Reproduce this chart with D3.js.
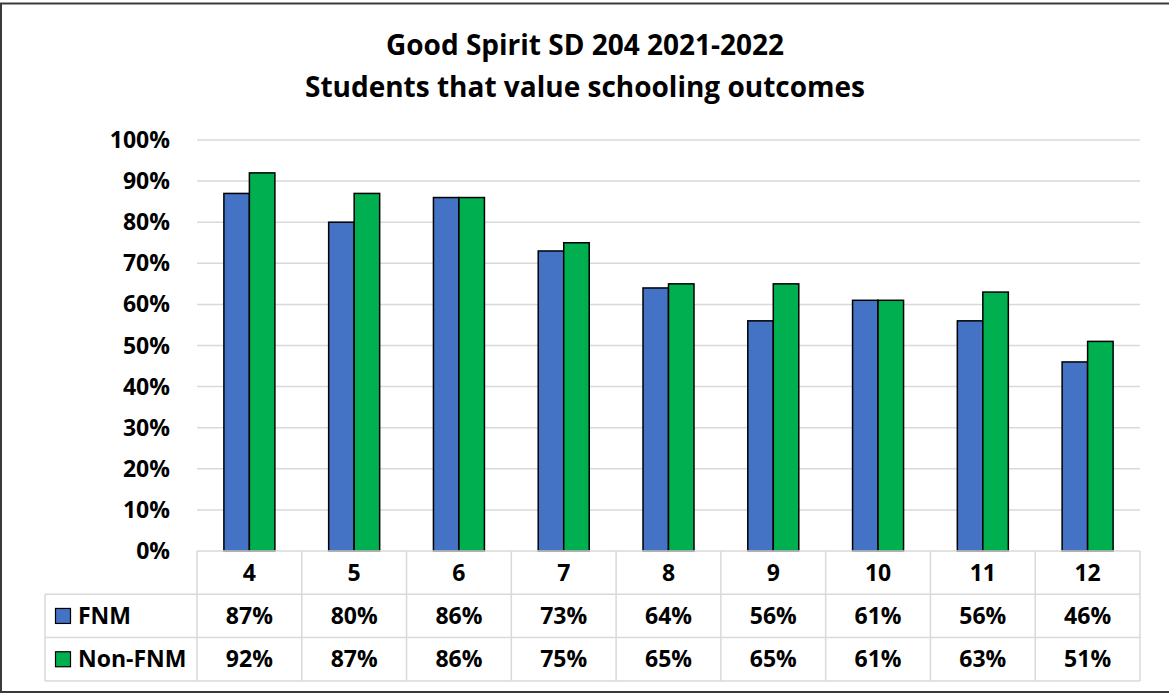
<!DOCTYPE html>
<html>
<head>
<meta charset="utf-8">
<script src="https://cdn.jsdelivr.net/npm/d3@7"></script>
<style>
  body { margin: 0; background: #fff; }
  text { font-family: "Open Sans", sans-serif; font-weight: bold; fill: #000; }
</style>
</head>
<body>
<div id="chart"></div>
<script>
const width = 1169;
const height = 694;

// data
const grades = ["4", "5", "6", "7", "8", "9", "10", "11", "12"];
const seriesNames = ["FNM", "Non-FNM"];
const fnm = [87, 80, 86, 73, 64, 56, 61, 56, 46];
const nonFnm = [92, 87, 86, 75, 65, 65, 61, 63, 51];
const yTicks = [0, 10, 20, 30, 40, 50, 60, 70, 80, 90, 100];
const colors = ["#4472C4", "#00B050"];

const series = [fnm, nonFnm];
const labelSize = "23px";

const svg = d3.select("#chart")
  .append("svg")
  .attr("width", width)
  .attr("height", height);

// outer border (right side runs off the picture)
svg.append("rect")
  .attr("x", 1)
  .attr("y", 3.5)
  .attr("width", width + 10)
  .attr("height", 688.5)
  .attr("fill", "none")
  .attr("stroke", "#3a3a3a")
  .attr("stroke-width", 2);

/* title */
const title = svg.append("text")
  .attr("text-anchor", "middle")
  .style("font-size", "28px");
title.append("tspan").attr("x", 585).attr("y", 55).text("Good Spirit SD 204 2021-2022");
title.append("tspan").attr("x", 585).attr("y", 97).text("Students that value schooling outcomes");

const plotLeft = 197, plotRight = 1140, plotTop = 140, plotBottom = 551;

const xScale = d3.scaleBand()
  .domain(grades)
  .range([plotLeft, plotRight]);

const yScale = d3.scaleLinear()
  .domain([0, 100])
  .range([plotBottom, plotTop]);

// gridlines
svg.append("g")
  .selectAll("line")
  .data(yTicks.filter(d => d > 0))
  .enter()
  .append("line")
  .attr("x1", plotLeft)
  .attr("x2", plotRight)
  .attr("y1", d => yScale(d))
  .attr("y2", d => yScale(d))
  .attr("stroke", "#d9d9d9")
  .attr("stroke-width", 1.5);

// y labels
svg.append("g")
  .selectAll("text")
  .data(yTicks)
  .enter()
  .append("text")
  .attr("x", 170)
  .attr("y", d => yScale(d) + 8)
  .attr("text-anchor", "end")
  .style("font-size", labelSize)
  .text(d => d + "%");

// bars
const barW = 25.5;
series.forEach(function(vals, i) {
  svg.append("g")
    .selectAll("rect")
    .data(vals)
    .enter()
    .append("rect")
    .attr("x", (d, j) => xScale(grades[j]) + xScale.bandwidth() / 2 - barW + i * barW)
    .attr("y", d => yScale(d))
    .attr("width", barW)
    .attr("height", d => plotBottom - yScale(d))
    .attr("fill", colors[i])
    .attr("stroke", "#000")
    .attr("stroke-width", 1.5);
});

/* data table */
const rowH = 43.3;
const tableLeft = 45;
const grid = svg.append("g")
  .attr("stroke", "#d9d9d9")
  .attr("stroke-width", 1.5);

// horizontal lines
[0, 1, 2, 3].forEach(function(r) {
  grid.append("line")
    .attr("x1", r === 0 ? plotLeft : tableLeft)
    .attr("x2", plotRight)
    .attr("y1", plotBottom + r * rowH)
    .attr("y2", plotBottom + r * rowH);
});
// vertical lines
grades.concat(["end"]).forEach(function(g, j) {
  const x = plotLeft + j * xScale.bandwidth();
  grid.append("line")
    .attr("x1", x)
    .attr("x2", x)
    .attr("y1", plotBottom)
    .attr("y2", plotBottom + 3 * rowH);
});
grid.append("line")
  .attr("x1", tableLeft)
  .attr("x2", tableLeft)
  .attr("y1", plotBottom + rowH)
  .attr("y2", plotBottom + 3 * rowH);

// header row
svg.append("g")
  .selectAll("text")
  .data(grades)
  .enter()
  .append("text")
  .attr("x", d => xScale(d) + xScale.bandwidth() / 2)
  .attr("y", plotBottom + rowH / 2 + 8)
  .attr("text-anchor", "middle")
  .style("font-size", labelSize)
  .text(d => d);

// value rows + legend keys
series.forEach(function(vals, i) {
  const cy = plotBottom + rowH * (i + 1) + rowH / 2;
  svg.append("g")
    .selectAll("text")
    .data(vals)
    .enter()
    .append("text")
    .attr("x", (d, j) => xScale(grades[j]) + xScale.bandwidth() / 2)
    .attr("y", cy + 8)
    .attr("text-anchor", "middle")
    .style("font-size", labelSize)
    .text(d => d + "%");

  svg.append("rect")
    .attr("x", 55.5)
    .attr("y", cy - 7.5)
    .attr("width", 15)
    .attr("height", 15)
    .attr("fill", colors[i])
    .attr("stroke", "#000")
    .attr("stroke-width", 1.2);

  svg.append("text")
    .attr("x", 78)
    .attr("y", cy + 8)
    .style("font-size", labelSize)
    .text(seriesNames[i]);
});
</script>
</body>
</html>
